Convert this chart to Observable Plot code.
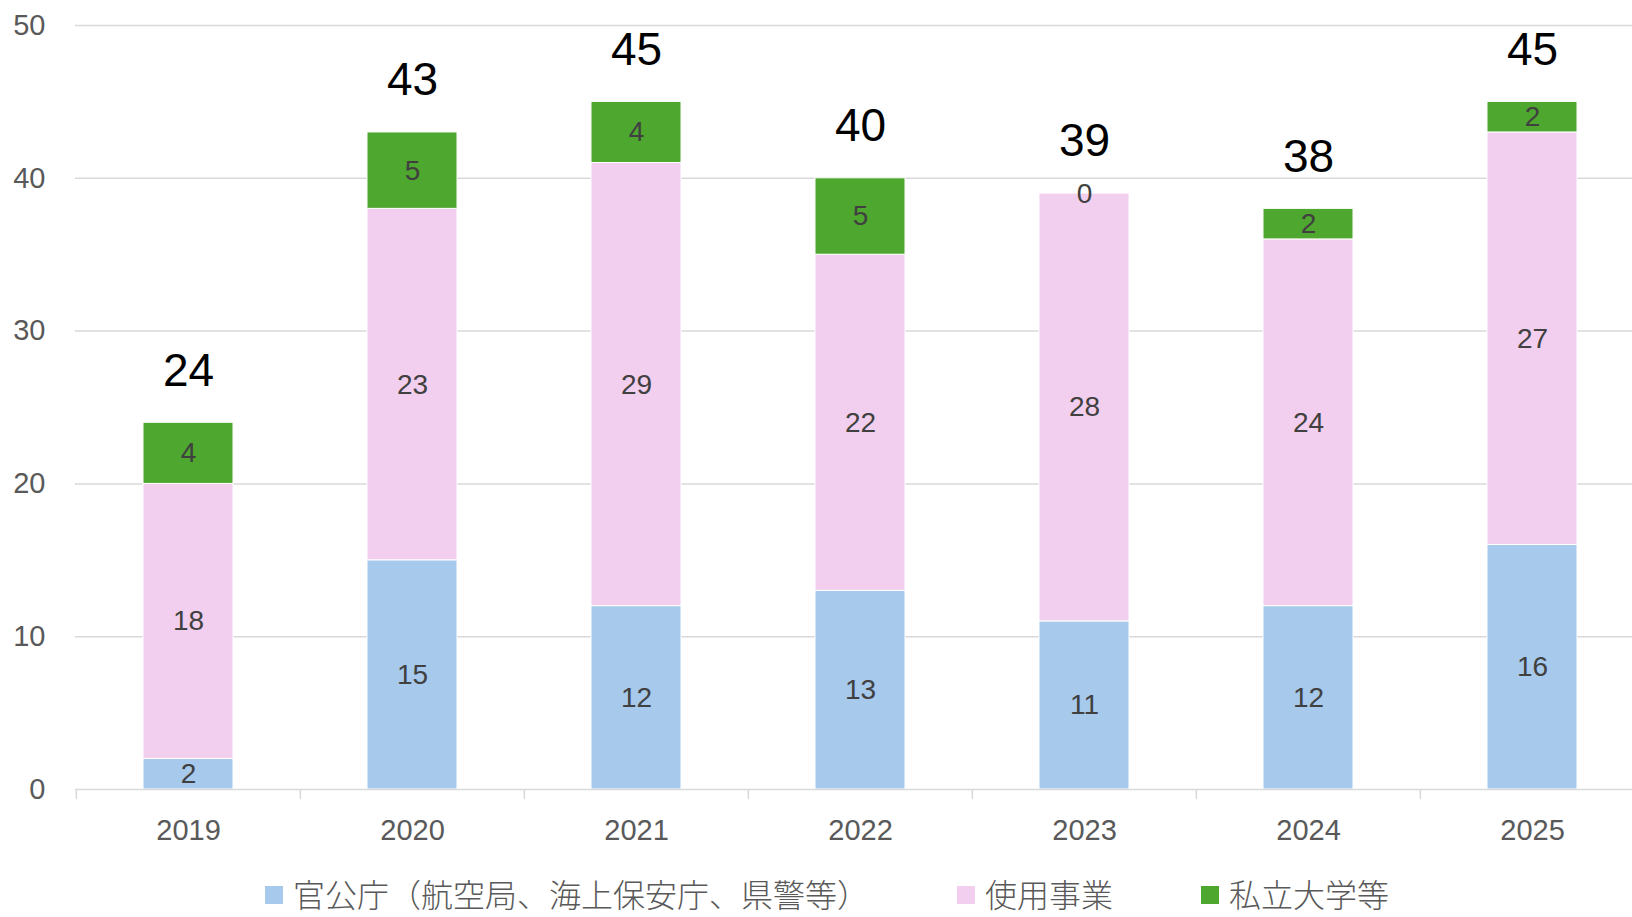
<!DOCTYPE html>
<html><head><meta charset="utf-8">
<script src="https://cdn.jsdelivr.net/npm/d3@7"></script>
<script src="https://cdn.jsdelivr.net/npm/@observablehq/plot@0.6"></script>
<style>
body{margin:0;background:#fff;width:1632px;height:917px;overflow:hidden;position:relative;font-family:"Liberation Sans",Arial,sans-serif}
#legend{position:absolute;left:265px;top:876px;height:34px;display:flex;align-items:center;font-family:"Noto Sans CJK JP",sans-serif;font-weight:300;font-size:32px;line-height:1;color:#595959;white-space:nowrap}
.item{display:flex;align-items:center}
.item + .item{margin-left:88px}
.item span{display:block;line-height:1}
.sw{width:18px;height:18px;margin-right:10px;margin-top:4px}
</style></head><body><div id="chart"></div><div id="legend"></div>
<script>
const years = ["2019","2020","2021","2022","2023","2024","2025"];
const seriesNames = ["官公庁（航空局、海上保安庁、県警等）","使用事業","私立大学等"];
const government = [2,15,12,13,11,12,16];
const business = [18,23,29,22,28,24,27];
const university = [4,5,4,5,0,2,2];
const colors = ["#A6C9EC","#F2CFEE","#4EA72E"];
const yTicks = [0,10,20,30,40,50];

const seriesValues = [government, business, university];
const rows = [];
years.forEach((yr,i)=> seriesNames.forEach((s,j)=> rows.push({year:yr, series:s, value:seriesValues[j][i]})));
const totals = years.map((yr,i)=>({year:yr, total:government[i]+business[i]+university[i]}));

const W=1632, H=850, left=75, right=1645;
const step=(right-left)/years.length;
const chart = Plot.plot({
  width:W, height:H, marginLeft:75, marginRight:0, marginTop:25, marginBottom:61,
  style:{fontFamily:'"Liberation Sans", Arial, sans-serif', color:"#595959", background:"#fff"},
  x:{domain:years, range:[left,right], paddingInner:0.6, paddingOuter:0.3, label:null},
  y:{domain:[0,50], label:null},
  color:{domain:seriesNames, range:colors},
  marks:[
    Plot.ruleY(yTicks.filter(d=>d>0), {stroke:"#D9D9D9", strokeWidth:1.5}),
    Plot.barY(rows,{x:"year", y:"value", fill:"series", stroke:"#fff", strokeWidth:1}),
    Plot.ruleY([0],{stroke:"#D9D9D9", strokeWidth:1.5}),
    Plot.ruleX(years,{x:d=>d, y1:0, y2:0, insetBottom:-10, dx:-step/2, stroke:"#D9D9D9", strokeWidth:1.5}),
    Plot.axisY({ticks:yTicks, tickSize:0, tickPadding:30, fontSize:29, tickFormat:d=>String(d), label:null}),
    Plot.axisX({tickSize:0, tickPadding:30, fontSize:29, label:null}),
    Plot.text(rows, Plot.stackY({x:"year", y:"value", z:"series", text:d=>String(d.value), fontSize:28, fill:"#404040"})),
    Plot.text(totals,{x:"year", y:"total", text:d=>String(d.total), dy:-52, fontSize:46, fill:"#000"})
  ]
});
document.getElementById("chart").appendChild(chart);

const legend = document.getElementById("legend");
seriesNames.forEach((s,i)=>{
  const item=document.createElement("div"); item.className="item";
  const sw=document.createElement("div"); sw.className="sw"; sw.style.background=colors[i];
  const t=document.createElement("span"); t.textContent=s;
  item.appendChild(sw); item.appendChild(t); legend.appendChild(item);
});
</script></body></html>
